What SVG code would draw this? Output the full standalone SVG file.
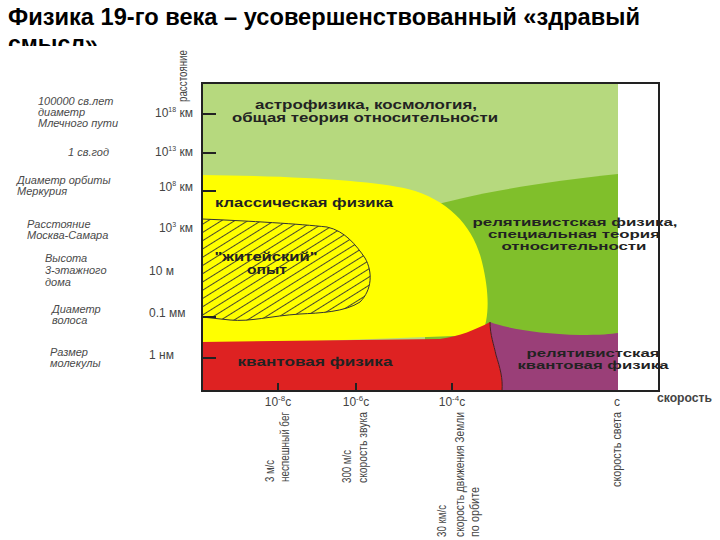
<svg xmlns="http://www.w3.org/2000/svg" width="720" height="540" viewBox="0 0 720 540">
<style>
.lbl{font-family:"Liberation Sans",Arial,sans-serif;font-style:italic;font-size:11px;fill:#4a4a4a}
.ax{font-family:"Liberation Sans",Arial,sans-serif;font-size:12px;fill:#444}
.rg{font-family:"Liberation Sans",Arial,sans-serif;font-weight:bold;font-size:12px;fill:#222;text-anchor:middle}
.rg2{font-size:11.2px}
.rot{font-family:"Liberation Sans Narrow","Liberation Sans",Arial,sans-serif;font-size:12px;fill:#444}
.tick{stroke:#222;stroke-width:2}
</style>
<defs>
<pattern id="hatch" patternUnits="userSpaceOnUse" width="7" height="7" patternTransform="rotate(-32)">
<rect width="7" height="7" fill="#ffff00"/>
<line x1="0" y1="3.5" x2="7" y2="3.5" stroke="#333" stroke-width="0.9"/>
</pattern>
<clipPath id="titleclip"><rect x="0" y="0" width="720" height="46"/></clipPath>
</defs>
<rect width="720" height="540" fill="#fff"/>
<g id="title" clip-path="url(#titleclip)" font-family="'Liberation Sans',Arial,sans-serif" font-weight="bold" font-size="23" fill="#000">
<text x="8" y="25" textLength="632" lengthAdjust="spacingAndGlyphs">Физика 19-го века – усовершенствованный «здравый</text>
<text x="8" y="52">смысл»</text>
</g>
<g id="regions">
<rect id="astro" x="202" y="83" width="416" height="308" fill="#b6d97e"/>
<path id="relgreen" d="M425,208 C 465,195 540,182 618,174 L 618,345 L 425,345 Z" fill="#80bf2b"/>
<path id="classic" d="M202,175 C 300,176 375,181 408,189 C 450,200 474,228 482,262 C 490,295 489,318 482,335 L 202,345 Z" fill="#ffff00"/>
<path id="quantum" d="M202,342 L 440,339 C 460,336 475,330 490,322 C 490,335 494,345 496,355 C 500,368 503,378 502,391 L 202,391 Z" fill="#de2222"/>
<path id="relquantum" d="M490,322 C 505,328 540,334 580,335 C 600,335 612,334 618,333 L 618,391 L 502,391 C 503,378 500,368 496,355 C 494,345 490,335 490,322 Z" fill="#9a3f78"/>
<path d="M490,322 C 490,335 494,345 496,355 C 500,368 503,378 502,391" fill="none" stroke="#4a1a20" stroke-width="1"/>
<rect id="strip" x="618" y="83" width="41" height="308" fill="#fff"/>
<path id="life" d="M202,219 C 250,221 300,224 327,227 C 345,231 356,245 365,258 C 373,272 372,290 360,302 C 345,312 320,313 300,314 C 270,316 250,322 230,320 L 202,317 Z" fill="url(#hatch)" stroke="#333" stroke-width="1"/>
</g>
<g id="frame">
<rect x="202" y="83" width="457" height="308" fill="none" stroke="#222" stroke-width="2"/>
<line class="tick" x1="202" y1="114" x2="216" y2="114"/>
<line class="tick" x1="202" y1="153" x2="216" y2="153"/>
<line class="tick" x1="202" y1="191" x2="216" y2="191"/>
<line class="tick" x1="202" y1="317" x2="216" y2="317"/>
<line class="tick" x1="202" y1="358" x2="216" y2="358"/>
<line class="tick" x1="278" y1="383" x2="278" y2="391"/>
<line class="tick" x1="356" y1="383" x2="356" y2="391"/>
<line class="tick" x1="452" y1="383" x2="452" y2="391"/>
</g>
<g id="region-labels">
<text class="rg" x="366" y="109" textLength="222" lengthAdjust="spacingAndGlyphs">астрофизика, космология,</text>
<text class="rg" x="365" y="122" textLength="266" lengthAdjust="spacingAndGlyphs">общая теория относительности</text>
<text class="rg" x="304" y="207" textLength="178" lengthAdjust="spacingAndGlyphs">классическая физика</text>
<text class="rg" x="266" y="261" textLength="103" lengthAdjust="spacingAndGlyphs">"житейский"</text>
<text class="rg" x="267" y="274" textLength="40" lengthAdjust="spacingAndGlyphs">опыт</text>
<text class="rg rg2" x="575" y="226" textLength="205" lengthAdjust="spacingAndGlyphs">релятивистская физика,</text>
<text class="rg rg2" x="574" y="238" textLength="172" lengthAdjust="spacingAndGlyphs">специальная теория</text>
<text class="rg rg2" x="574" y="250" textLength="145" lengthAdjust="spacingAndGlyphs">относительности</text>
<text class="rg rg2" x="593" y="357" textLength="133" lengthAdjust="spacingAndGlyphs">релятивистская</text>
<text class="rg rg2" x="593" y="369" textLength="151" lengthAdjust="spacingAndGlyphs">квантовая физика</text>
<text class="rg" x="315" y="366" textLength="155" lengthAdjust="spacingAndGlyphs">квантовая физика</text>
</g>
<g id="y-axis">
<text class="ax" font-size="11" transform="translate(187,102) rotate(-90)" textLength="52" lengthAdjust="spacingAndGlyphs">расстояние</text>
<text class="ax" x="193" y="117" text-anchor="end">10<tspan font-size="7" dy="-5">18</tspan><tspan dy="5"> км</tspan></text>
<text class="ax" x="193" y="156" text-anchor="end">10<tspan font-size="7" dy="-5">13</tspan><tspan dy="5"> км</tspan></text>
<text class="ax" x="193" y="191" text-anchor="end">10<tspan font-size="7" dy="-5">8</tspan><tspan dy="5"> км</tspan></text>
<text class="ax" x="193" y="232" text-anchor="end">10<tspan font-size="7" dy="-5">3</tspan><tspan dy="5"> км</tspan></text>
<text class="ax" x="149" y="275">10 м</text>
<text class="ax" x="149" y="317">0.1 мм</text>
<text class="ax" x="149" y="359">1 нм</text>
</g>
<g id="y-labels">
<text class="lbl" x="38" y="105">100000 св.лет</text>
<text class="lbl" x="38" y="116">диаметр</text>
<text class="lbl" x="38" y="127">Млечного пути</text>
<text class="lbl" x="68" y="156">1 св.год</text>
<text class="lbl" x="17" y="184">Диаметр орбиты</text>
<text class="lbl" x="17" y="195">Меркурия</text>
<text class="lbl" x="27" y="228">Расстояние</text>
<text class="lbl" x="27" y="239">Москва-Самара</text>
<text class="lbl" x="45" y="262">Высота</text>
<text class="lbl" x="45" y="274">3-этажного</text>
<text class="lbl" x="45" y="286">дома</text>
<text class="lbl" x="52" y="313">Диаметр</text>
<text class="lbl" x="52" y="324">волоса</text>
<text class="lbl" x="50" y="356">Размер</text>
<text class="lbl" x="50" y="367">молекулы</text>
</g>
<g id="x-axis">
<text class="ax" font-size="13" x="278" y="406" text-anchor="middle">10<tspan font-size="8" dy="-5">-8</tspan><tspan dy="5">c</tspan></text>
<text class="ax" font-size="13" x="356" y="406" text-anchor="middle">10<tspan font-size="8" dy="-5">-6</tspan><tspan dy="5">c</tspan></text>
<text class="ax" font-size="13" x="452" y="406" text-anchor="middle">10<tspan font-size="8" dy="-5">-4</tspan><tspan dy="5">c</tspan></text>
<text class="ax" font-size="13" x="617" y="406" text-anchor="middle">c</text>
<text class="ax" font-weight="bold" x="657" y="402" fill="#555" textLength="55" lengthAdjust="spacingAndGlyphs">скорость</text>
</g>
<g id="x-labels">
<text class="rot" transform="translate(274,482) rotate(-90)" textLength="22" lengthAdjust="spacingAndGlyphs">3 м/с</text>
<text class="rot" transform="translate(289,482) rotate(-90)" textLength="70" lengthAdjust="spacingAndGlyphs">неспешный бег</text>
<text class="rot" transform="translate(351,483) rotate(-90)" textLength="33" lengthAdjust="spacingAndGlyphs">300 м/с</text>
<text class="rot" transform="translate(367,483) rotate(-90)" textLength="71" lengthAdjust="spacingAndGlyphs">скорость звука</text>
<text class="rot" transform="translate(446,537) rotate(-90)" textLength="32" lengthAdjust="spacingAndGlyphs">30 км/с</text>
<text class="rot" transform="translate(464,537) rotate(-90)" textLength="125" lengthAdjust="spacingAndGlyphs">скорость движения Земли</text>
<text class="rot" transform="translate(479,537) rotate(-90)" textLength="50" lengthAdjust="spacingAndGlyphs">по орбите</text>
<text class="rot" transform="translate(621,487) rotate(-90)" textLength="75" lengthAdjust="spacingAndGlyphs">скорость света</text>
</g>
</svg>
